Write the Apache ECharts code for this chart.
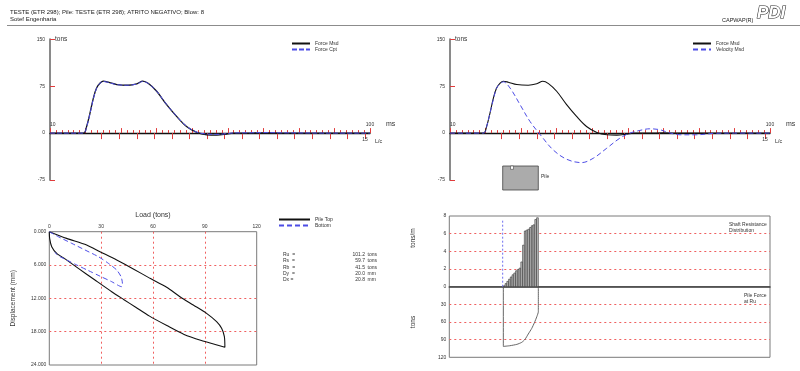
<!DOCTYPE html>
<html><head><meta charset="utf-8">
<script src="https://cdn.jsdelivr.net/npm/echarts@6/dist/echarts.min.js"></script>
<style>html,body{margin:0;padding:0;background:#fff}#c{width:800px;height:371px}</style>
</head><body><div id="c"></div>
<script>
// ---------- DATA ----------
const headerLine1 = 'TESTE (ETR 298); Pile: TESTE (ETR 298); ATRITO NEGATIVO; Blow: 8';
const headerLine2 = 'Sotef Engenharia';

// Top charts (time in ms, force/velocity in tons)
const forceTime = [10, 19.4, 20.3, 21.25, 22.2, 23.1, 24.1, 25, 26.4, 28.8, 32, 34.4, 36.1, 37.7, 40, 42.8, 45.6, 48.4, 51.3, 54.1, 56.9, 59.7, 61.6, 66, 70, 75, 80, 90, 100];
const forceMsd  = [0, 0, 10.6, 32, 56, 72, 80, 83, 81.4, 77.6, 76.5, 78.8, 83, 79.2, 66.9, 45.5, 26.7, 10.6, 1, -2.7, -3.2, -1.6, 0, 0, 0.5, 0, 0, 0, 0];
const forceCpt  = [0, 0, 10, 31, 55, 71.5, 80, 82.5, 81, 77.5, 76.5, 78.5, 82.5, 79, 67, 45.8, 27, 11, 1.5, -1.5, -2, -1, 0.3, 0.5, 0.8, 0.5, 0.3, 0, 0];
const velTime   = [10, 19.4, 20.3, 21.25, 22.2, 23.1, 24.1, 25, 26.9, 29.7, 32.5, 35.8, 39, 42.8, 47, 50.3, 54.1, 57.8, 60.6, 63.4, 66.2, 69.1, 71.4, 74.7, 79.4, 84, 90, 100];
const velocityMsd = [0, 0, 10.6, 32, 54, 72, 79, 82, 72, 45.5, 18.6, -5.5, -26.8, -41.8, -47.2, -40.2, -24.1, -8, 0, 4.3, 6.9, 5.3, 1, -2.7, -2.7, -0.5, 0, 0];
const lcTickValues = [0,1,2,3,4,5,6,7,8,9,10,11,12,13,14,15];
const lcLabelValues = [15];
const msLabelValues = [10, 100];

// Load-displacement (tons, mm)
const pileTopLoad = [0, 10, 21.6, 29.3, 39, 48.6, 58.3, 67.9, 75.6, 83.3, 91, 96.8, 99.7, 101.3, 101.6, 96, 88, 78, 68, 58, 50, 43, 36.1, 26.4, 16.8, 9.1, 4.3, 1.4, 0.2, 0];
const pileTopDisp = [0, 1.2, 2.4, 3.6, 5.1, 6.7, 8.4, 10, 11.7, 13.2, 14.7, 16.2, 17.4, 18.9, 20.8, 20.3, 19.6, 18.5, 16.9, 15.2, 13.6, 12.2, 10.8, 8.7, 6.6, 4.9, 3.9, 2.7, 1.2, 0];
const bottomLoad = [0, 5.2, 13, 20.7, 28.4, 34.2, 39, 41.5, 42.3, 41.9, 36.1, 29.3, 22.6, 15.9, 10.1, 6.2, 4.3, 3.3];
const bottomDisp = [0, 0.9, 2.1, 3.3, 4.5, 5.7, 6.9, 8.1, 9.3, 9.9, 9.0, 8.0, 7.0, 6.0, 5.1, 4.5, 4.1, 3.7];

const resultLabels = ['Ru  =', 'Rs  =', 'Rb  =', 'Dy  =', 'Dx ='];
const resultValues = ['101.2', '59.7', '41.5', '20.0', '20.8'];
const resultUnits  = ['tons', 'tons', 'tons', 'mm', 'mm'];

// Shaft resistance distribution (depth m, tons/m)
const segDepth = [0, 0.8, 1.6, 2.4, 3.2, 4.0, 4.8, 5.6, 6.4, 7.2, 8.0, 8.8, 9.6, 10.4, 11.2, 12.0, 12.8, 13.6, 14.4, 15.2, 16.0];
const shaftRes = [0.1, 0.35, 0.6, 0.85, 1.1, 1.35, 1.55, 1.8, 1.95, 2.1, 2.8, 4.7, 6.3, 6.4, 6.5, 6.7, 6.9, 7.0, 7.6, 7.8];
const pileForceDepth = [0, 0, 3.0, 6.2, 8.4, 9.9, 11.4, 13.0, 14.2, 15.3, 16, 16];
const pileForce      = [0, 101.5, 100.3, 98, 94.6, 89.5, 80.4, 70.8, 61.2, 51, 42.5, 0];
const markerDepth = [-0.3, -0.3];
const markerValue = [0, 7.6];

// ---------- CHART ----------
const FONT = '"Liberation Sans", Arial, sans-serif';
const RED = '#e03c3c';
const BLUE = '#4d4de6';
const zip = (a, b) => a.map((v, i) => [v, b[i]]);
const ZERO_OFFSET = -46.9; // moves the time axes up onto the zero-force line

function msAxis(g) {
  return {
    gridIndex: g, type: 'value', min: 10, max: 100, interval: 10, position: 'bottom', offset: ZERO_OFFSET,
    axisLine: { onZero: false, lineStyle: { color: '#111', width: 1.3 } },
    axisTick: { inside: true, length: 5, lineStyle: { color: RED, width: 1 } },
    minorTick: { show: true, splitNumber: 6, length: 3, lineStyle: { color: RED, width: 1 } },
    axisLabel: { inside: true, fontSize: 5, color: '#333', margin: 6, alignMinLabel: 'left', customValues: msLabelValues },
    splitLine: { show: false }
  };
}
function lcAxis(g) {
  return {
    gridIndex: g, type: 'value', min: -2.946, max: 15.29, position: 'bottom', offset: ZERO_OFFSET,
    axisLine: { onZero: false, show: false },
    axisTick: { show: true, inside: false, length: 6, customValues: lcTickValues, lineStyle: { color: RED, width: 1 } },
    axisLabel: { customValues: lcLabelValues, fontSize: 5, color: '#333', margin: 4 },
    splitLine: { show: false }
  };
}
function forceYAxis(g) {
  return {
    gridIndex: g, type: 'value', min: -75, max: 150, interval: 75,
    axisLine: { show: true, onZero: false, lineStyle: { color: '#8a8a8a', width: 2 } },
    axisTick: { show: true, inside: true, length: 5, lineStyle: { color: RED } },
    axisLabel: { fontSize: 5, color: '#333', margin: 5 },
    splitLine: { show: false },
    name: 'tons', nameLocation: 'end', nameGap: 0,
    nameTextStyle: { fontSize: 6.5, color: '#333', align: 'left', verticalAlign: 'middle', padding: [0, 0, 0, 5] }
  };
}
const dotted = { show: true, showMinLine: false, showMaxLine: false, lineStyle: { color: '#f06060', type: [2, 3], width: 1 } };
const legendBase = { orient: 'vertical', itemWidth: 18, itemHeight: 6, itemGap: 1, padding: 0, selectedMode: false,
  itemStyle: { color: 'rgba(0,0,0,0)', borderColor: 'rgba(0,0,0,0)', borderWidth: 0, opacity: 0 },
  textStyle: { fontSize: 5, color: '#333', fontFamily: FONT } };

const txt = (x, y, s, size, extra) => ({ type: 'text', x: x, y: y,
  style: Object.assign({ text: s, font: size + 'px ' + FONT, fill: '#333', verticalAlign: 'middle' }, extra || {}) });

const graphics = [
  txt(10, 12, headerLine1, 6, { fill: '#222' }),
  txt(10, 19.5, headerLine2, 6, { fill: '#222' }),
  { type: 'line', shape: { x1: 7, y1: 25.5, x2: 800, y2: 25.5 }, style: { stroke: '#8c8c8c', lineWidth: 1.2 } },
  txt(722, 20, 'CAPWAP(R)', 5.5, { fill: '#222' }),
  { type: 'text', x: 757, y: 13, style: { text: 'PDI', font: 'italic bold 17px ' + FONT, fill: '#fff', stroke: '#222', lineWidth: 1.1, verticalAlign: 'middle' } },
  txt(386, 124.5, 'ms', 7), txt(375, 141.7, 'L/c', 5.5),
  txt(786, 124.5, 'ms', 7), txt(775, 141.7, 'L/c', 5.5),
  { type: 'rect', shape: { x: 502.7, y: 166, width: 35.6, height: 24 }, style: { fill: '#ababab', stroke: '#444', lineWidth: 0.8 } },
  { type: 'rect', shape: { x: 510.5, y: 166, width: 3, height: 3.3 }, style: { fill: '#fff', stroke: '#444', lineWidth: 0.6 } },
  txt(541, 177, 'Pile', 5),
  txt(729, 224.5, 'Shaft Resistance', 5), txt(729, 230.5, 'Distribution', 5),
  txt(744, 295.5, 'Pile Force', 5), txt(744, 301.5, 'at Ru', 5),
  { type: 'text', x: 413, y: 238, rotation: Math.PI / 2,
    style: { text: 'tons/m', font: '6.5px ' + FONT, fill: '#333', align: 'center', verticalAlign: 'middle' } }
];
resultLabels.forEach((lab, i) => {
  const y = 255 + i * 6.1;
  graphics.push(txt(283, y, lab, 5));
  graphics.push(txt(365, y, resultValues[i], 5, { align: 'right' }));
  graphics.push(txt(367.5, y, resultUnits[i], 5));
});

const option = {
  animation: false,
  backgroundColor: '#fff',
  textStyle: { fontFamily: FONT },
  grid: [
    { left: 50, top: 39.3, width: 320, height: 140.7, outerBoundsMode: 'none' },
    { left: 450, top: 39.3, width: 320, height: 140.7, outerBoundsMode: 'none' },
    { left: 49.3, top: 231.7, width: 207.4, height: 133.3, show: true, borderColor: '#7a7a7a', borderWidth: 1, outerBoundsMode: 'none' },
    { left: 449.3, top: 216, width: 320.7, height: 70.7, show: true, borderColor: '#7a7a7a', borderWidth: 1, outerBoundsMode: 'none' },
    { left: 449.3, top: 286.7, width: 320.7, height: 70.6, show: true, borderColor: '#7a7a7a', borderWidth: 1, outerBoundsMode: 'none' }
  ],
  xAxis: [
    msAxis(0), lcAxis(0), msAxis(1), lcAxis(1),
    { gridIndex: 2, type: 'value', position: 'top', min: 0, max: 120, interval: 30,
      axisLine: { show: false }, axisTick: { show: false },
      axisLabel: { fontSize: 5, color: '#333', margin: 3 }, splitLine: dotted,
      name: 'Load (tons)', nameLocation: 'middle', nameGap: 13, nameTextStyle: { fontSize: 7, color: '#333' } },
    { gridIndex: 3, type: 'value', min: -24.7, max: 121.9, axisLine: { show: true, onZero: false, lineStyle: { color: '#444', width: 1.6 } },
      axisTick: { show: false }, axisLabel: { show: false }, splitLine: { show: false } },
    { gridIndex: 4, type: 'value', min: -24.7, max: 121.9, show: false }
  ],
  yAxis: [
    forceYAxis(0), forceYAxis(1),
    { gridIndex: 2, type: 'value', inverse: true, min: 0, max: 24, interval: 6,
      axisLine: { show: false }, axisTick: { show: false },
      axisLabel: { fontSize: 5, color: '#333', margin: 3, formatter: v => v.toFixed(3) }, splitLine: dotted,
      name: 'Displacement (mm)', nameLocation: 'middle', nameGap: 33, nameTextStyle: { fontSize: 6.5, color: '#333' } },
    { gridIndex: 3, type: 'value', min: 0, max: 8, interval: 2,
      axisLine: { show: false }, axisTick: { show: false },
      axisLabel: { fontSize: 5, color: '#333', margin: 3 }, splitLine: dotted },
    { gridIndex: 4, type: 'value', inverse: true, min: 0, max: 120, interval: 30,
      axisLine: { show: false }, axisTick: { show: false },
      axisLabel: { fontSize: 5, color: '#333', margin: 3, showMinLabel: false }, splitLine: dotted,
      name: 'tons', nameLocation: 'middle', nameGap: 33, nameTextStyle: { fontSize: 6.5, color: '#333' } }
  ],
  legend: [
    Object.assign({}, legendBase, { data: ['Force Msd', 'Force Cpt'], left: 291, top: 41 }),
    Object.assign({}, legendBase, { data: ['Force Msd', 'Velocity Msd'], left: 692, top: 41 }),
    Object.assign({}, legendBase, { data: ['Pile Top', 'Bottom'], left: 278, top: 217, itemWidth: 31 })
  ],
  series: [
    { name: 'Force Msd', type: 'line', xAxisIndex: 0, yAxisIndex: 0, data: zip(forceTime, forceMsd), symbol: 'none', smooth: 0.35,
      lineStyle: { color: '#111', width: 1.3 }, itemStyle: { color: '#111' } },
    { name: 'Force Cpt', type: 'line', xAxisIndex: 0, yAxisIndex: 0, data: zip(forceTime, forceCpt), symbol: 'none', smooth: 0.35,
      lineStyle: { color: BLUE, width: 1, type: [5, 2] }, itemStyle: { color: BLUE } },
    { name: 'Force Msd', type: 'line', xAxisIndex: 2, yAxisIndex: 1, data: zip(forceTime, forceMsd), symbol: 'none', smooth: 0.35,
      lineStyle: { color: '#111', width: 1.1 }, itemStyle: { color: '#111' } },
    { name: 'Velocity Msd', type: 'line', xAxisIndex: 2, yAxisIndex: 1, data: zip(velTime, velocityMsd), symbol: 'none', smooth: 0.35,
      lineStyle: { color: BLUE, width: 1, type: [5, 3] }, itemStyle: { color: BLUE } },
    { name: 'Pile Top', type: 'line', xAxisIndex: 4, yAxisIndex: 2, data: zip(pileTopLoad, pileTopDisp), symbol: 'none', smooth: 0.25,
      lineStyle: { color: '#111', width: 1.1 }, itemStyle: { color: '#111' } },
    { name: 'Bottom', type: 'line', xAxisIndex: 4, yAxisIndex: 2, data: zip(bottomLoad, bottomDisp), symbol: 'none', smooth: 0.25,
      lineStyle: { color: BLUE, width: 1, type: [5, 3] }, itemStyle: { color: BLUE } },
    { name: 'Shaft Resistance', type: 'custom', xAxisIndex: 5, yAxisIndex: 3,
      data: shaftRes.map((h, i) => [segDepth[i], segDepth[i + 1], h]),
      renderItem: (params, api) => {
        const p0 = api.coord([api.value(0), api.value(2)]);
        const p1 = api.coord([api.value(1), 0]);
        return { type: 'rect', shape: { x: p0[0], y: p0[1], width: p1[0] - p0[0], height: p1[1] - p0[1] },
          style: { fill: '#c4c4c4', stroke: '#333', lineWidth: 0.6 } };
      } },
    { name: 'Marker', type: 'line', xAxisIndex: 5, yAxisIndex: 3, data: zip(markerDepth, markerValue), symbol: 'none',
      lineStyle: { color: '#6d6df0', width: 1, type: [2, 2] } },
    { name: 'Pile Force', type: 'line', xAxisIndex: 6, yAxisIndex: 4, data: zip(pileForceDepth, pileForce), symbol: 'none', smooth: 0.2,
      lineStyle: { color: '#555', width: 0.9 } }
  ],
  graphic: graphics
};
const chart = echarts.init(document.getElementById('c'));
chart.setOption(option);
</script></body></html>
